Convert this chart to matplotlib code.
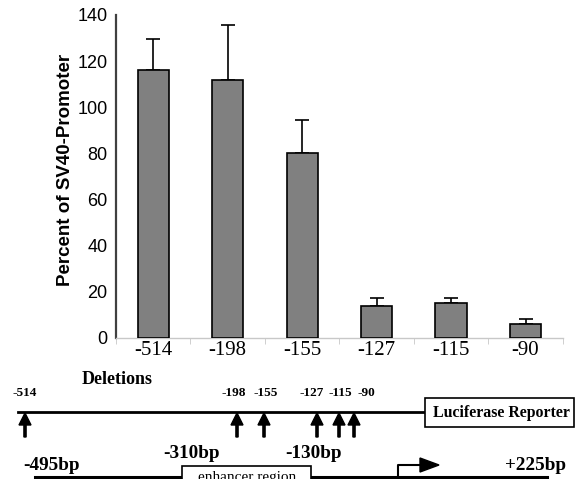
import numpy as np
import matplotlib.pyplot as plt
from matplotlib.patches import Rectangle, FancyArrow

# Luciferase activity of promoter deletions
deletions = ['-514', '-198', '-155', '-127', '-115', '-90']
percent = [116, 112, 80, 14, 15, 6]
err = [13.5, 23.5, 14.5, 3.5, 2.2, 2.3]

# schematic diagram (positions in pixels on the figure)
arrow_x = [25, 237, 264, 317, 339, 354]
label_x = [25, 234, 266, 312, 340, 366]
bp_labels = ['-495bp', '-310bp', '-130bp', '+225bp']

fig = plt.figure(figsize=(5.76, 4.79), dpi=100)
ax = fig.add_axes([0.2014, 0.2944, 0.7756, 0.6743])

x = np.arange(len(deletions))
ax.bar(x, percent, width=0.42, color='#808080', edgecolor='black', linewidth=1.2, zorder=3)
ax.errorbar(x, percent, yerr=[np.zeros(len(err)), err], fmt='none', ecolor='black',
            elinewidth=1.2, capsize=5, capthick=1.2, zorder=2)

ax.set_xlim(-0.5, len(deletions) - 0.5)
ax.set_ylim(0, 140)
ax.set_yticks(range(0, 141, 20))
ax.set_yticklabels([str(v) for v in range(0, 141, 20)], fontsize=13, family='Liberation Sans')
ax.tick_params(axis='y', length=0, pad=6)
ax.set_xticks(x)
ax.set_xticklabels(deletions, fontsize=15, family='Liberation Serif')
ax.set_xticks(np.arange(-0.5, len(deletions)), minor=True)
ax.tick_params(axis='x', which='major', length=0, pad=2)
ax.tick_params(axis='x', which='minor', length=4, color='#c8c8c8', direction='out')
for s in ['top', 'right']:
    ax.spines[s].set_visible(False)
ax.spines['left'].set_color('#404040')
ax.spines['left'].set_linewidth(1.6)
ax.spines['bottom'].set_color('#c8c8c8')
ax.spines['bottom'].set_linewidth(1)
ax.set_ylabel('Percent of SV40-Promoter', fontsize=13.5, fontweight='bold',
              family='Liberation Sans')
ax.yaxis.set_label_coords(-0.095, 0.52)

# overlay for the promoter diagram
ov = fig.add_axes([0, 0, 1, 1])
ov.set_xlim(0, 576)
ov.set_ylim(479, 0)
ov.axis('off')
ov.patch.set_alpha(0)

serif = 'Liberation Serif'
ov.text(82, 380, 'Deletions', fontsize=13, fontweight='bold', family=serif, va='center')
ov.plot([18, 425], [412, 412], color='black', lw=2)
ov.add_patch(Rectangle((425, 398), 149, 29, fc='white', ec='black', lw=1.2, zorder=3))
ov.text(501, 413, 'Luciferase Reporter', fontsize=11.4, fontweight='bold', family=serif,
        ha='center', va='center', zorder=4)
for xa, xl, lab in zip(arrow_x, label_x, deletions):
    ov.add_patch(FancyArrow(xa, 437, 0, -24, width=2.2, head_width=12, head_length=12,
                            length_includes_head=True, color='black'))
    ov.text(xl, 393, lab, fontsize=9.5, fontweight='bold', family=serif,
            ha='center', va='center')

# lower line with enhancer region and transcription start
ov.plot([35, 547], [477, 477], color='black', lw=2.2)
ov.add_patch(Rectangle((182, 466), 129, 20, fc='white', ec='black', lw=1.2, zorder=3))
ov.text(247, 471, 'enhancer region', fontsize=11, family=serif, ha='center', va='top',
        zorder=4)
ov.plot([398, 398, 421], [477, 465, 465], color='black', lw=1.5)
ov.add_patch(FancyArrow(420, 465, 19, 0, width=0.1, head_width=14, head_length=19,
                        length_includes_head=True, color='black'))
for xt, yt, lab in zip([52, 192, 314, 535], [466, 453, 453, 465], bp_labels):
    ov.text(xt, yt, lab, fontsize=13.8, fontweight='bold', family=serif,
            ha='center', va='center')

fig.savefig('out.png', dpi=100)
